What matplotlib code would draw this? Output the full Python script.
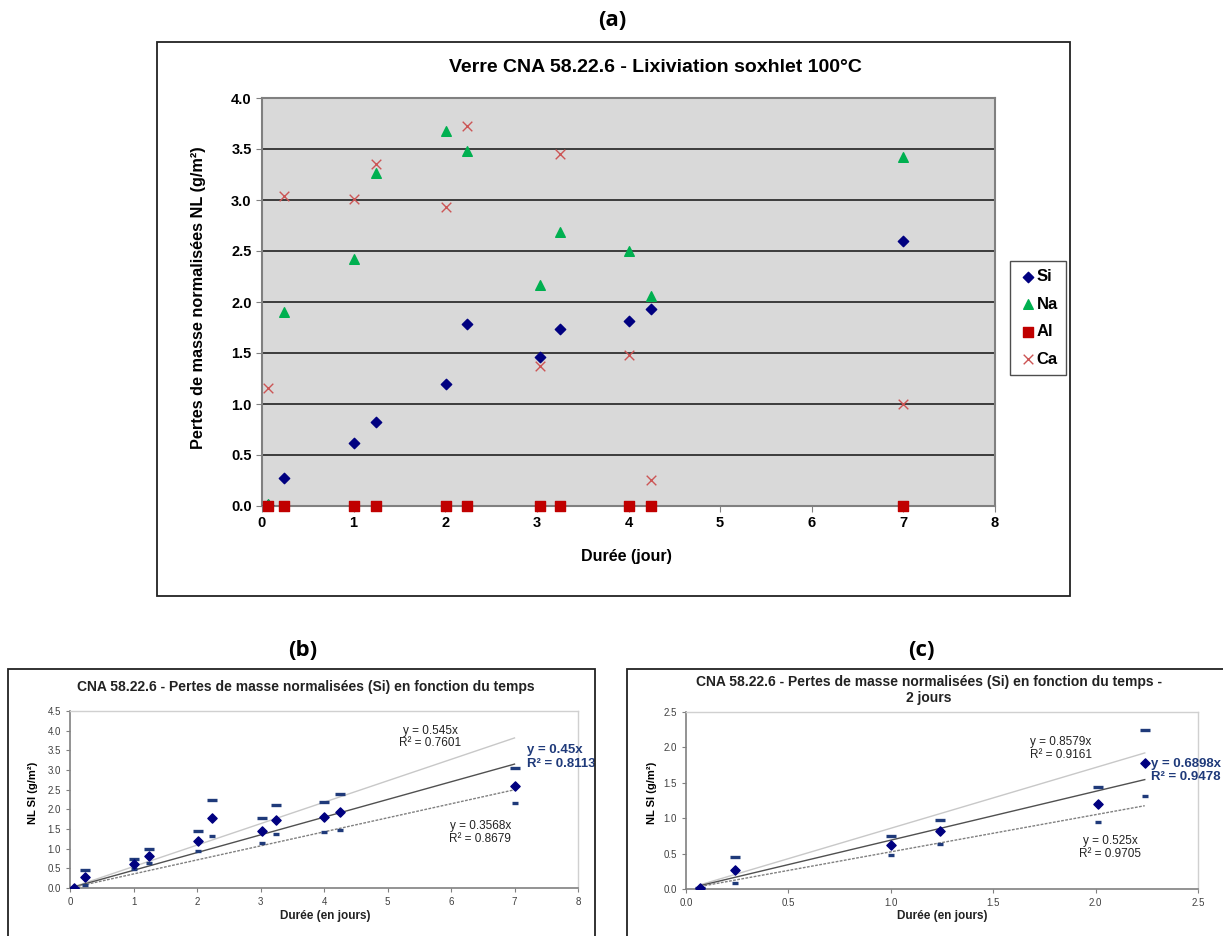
import matplotlib
matplotlib.use("Agg")
import matplotlib.pyplot as plt
from matplotlib.patches import Rectangle
import numpy as np

plt.rcParams['font.family'] = ['Liberation Sans', 'DejaVu Sans']

# durees (jours)
jours = [0.07, 0.24, 1.0, 1.24, 2.01, 2.24, 3.03, 3.25, 4.0, 4.25, 7.0]

# pertes de masse normalisees NL (g/m2)
nl_si = [0.01, 0.27, 0.62, 0.82, 1.20, 1.78, 1.46, 1.74, 1.81, 1.93, 2.60]
nl_na = [0.02, 1.90, 2.42, 3.26, 3.68, 3.48, 2.17, 2.69, 2.50, 2.06, 3.42]
nl_al = [0.0, 0.0, 0.0, 0.0, 0.0, 0.0, 0.0, 0.0, 0.0, 0.0, 0.0]
nl_ca = [1.16, 3.04, 3.01, 3.35, 2.93, 3.73, 1.37, 3.45, 1.48, 0.25, 1.00]

# barres d'erreur Si (bornes haute / basse)
si_haut = [0.01, 0.45, 0.75, 0.98, 1.44, 2.25, 1.77, 2.10, 2.19, 2.39, 3.06]
si_bas = [0.01, 0.08, 0.48, 0.63, 0.94, 1.32, 1.15, 1.37, 1.43, 1.48, 2.15]

# pentes des regressions (haute, moyenne, basse)
pentes_b = [0.545, 0.45, 0.3568]
r2_b = [0.7601, 0.8113, 0.8679]
pentes_c = [0.8579, 0.6898, 0.525]
r2_c = [0.9161, 0.9478, 0.9705]
n_c = 6  # points jusqu'a 2 jours

W, H = 1223, 936
fig = plt.figure(figsize=(W / 100, H / 100), dpi=100)


def fx(px):
    return px / W


def fy(py):
    return 1 - py / H


def cadre(x0, y0, x1, y1):
    fig.patches.append(Rectangle((fx(x0), fy(y1)), fx(x1 - x0), (y1 - y0) / H,
                                 transform=fig.transFigure, fill=False,
                                 edgecolor='#222222', lw=1.3))


# ---------------- (a) ----------------
cadre(157, 42, 1070, 596)
fig.text(fx(612), fy(20), '(a)', ha='center', va='center', fontsize=16,
         fontweight='bold', family=['Open Sans', 'DejaVu Sans'])

ax = fig.add_axes([fx(262), fy(506), fx(995 - 262), (506 - 98) / H])
ax.set_facecolor('#D9D9D9')
ax.scatter(jours, nl_si, marker='D', s=28, color='#000080', label='Si', zorder=3)
ax.scatter(jours, nl_na, marker='^', s=48, color='#00B050', label='Na', zorder=3)
ax.scatter(jours, nl_al, marker='s', s=52, color='#C00000', label='Al', zorder=4, clip_on=False)
ax.scatter(jours, nl_ca, marker='x', s=48, color='#CC5555', linewidths=1.0, label='Ca', zorder=5)
ax.set_xlim(0, 8)
ax.set_ylim(0, 4)
ax.set_xticks(range(0, 9))
ax.set_yticks(np.arange(0, 4.01, 0.5))
ax.set_yticklabels([f'{v:.1f}' for v in np.arange(0, 4.01, 0.5)])
ax.yaxis.grid(True, color='#222222', lw=1.2)
ax.set_axisbelow(True)
for s in ax.spines.values():
    s.set_color('#808080')
    s.set_linewidth(1.5)
ax.tick_params(direction='out', length=4, color='#808080', labelsize=10.5)
for t in ax.get_xticklabels() + ax.get_yticklabels():
    t.set_fontweight('bold')
fig.text(fx(655), fy(67), 'Verre CNA 58.22.6 - Lixiviation soxhlet 100°C',
         ha='center', va='center', fontsize=14, fontweight='bold')
fig.text(fx(198), fy(298), 'Pertes de masse normalisées NL (g/m²)', rotation=90,
         ha='center', va='center', fontsize=11.7, fontweight='bold')
fig.text(fx(626), fy(557), 'Durée (jour)', ha='center', va='center',
         fontsize=11.5, fontweight='bold')
leg = fig.legend(loc='upper left', bbox_to_anchor=(fx(1010), fy(261)),
                 frameon=True, fancybox=False, edgecolor='#222222',
                 prop={'weight': 'bold', 'size': 12}, handletextpad=0.0,
                 handlelength=1.1, labelspacing=0.75, borderpad=0.5,
                 borderaxespad=0)
leg.get_frame().set_linewidth(1.0)


# ---------------- (b) et (c) ----------------
def panneau(rect, n, pentes, r2, xmax, xstep, yticks, pos_txt):
    a = fig.add_axes(rect)
    x = np.array(jours[:n])
    a.scatter(x, nl_si[:n], marker='D', s=22, color='#000080', zorder=4)
    a.plot(x, si_haut[:n], ls='none', marker='_', ms=7, mew=2.4,
           color='#1F3A7A', zorder=3)
    a.plot(x, si_bas[:n], ls='none', marker='_', ms=5, mew=2.4,
           color='#1F3A7A', zorder=3)
    xl = np.array([x[0], x[-1]])
    styles = [dict(color='#C8C8C8', lw=1.0),
              dict(color='#505050', lw=1.0),
              dict(color='#808080', lw=1.0, ls=(0, (2, 1)))]
    for p, st in zip(pentes, styles):
        a.plot(xl, p * xl, **st, zorder=2)
    for i, (p, r) in enumerate(zip(pentes, r2)):
        tx, ty = pos_txt[i]
        if i == 1:
            a.text(tx, ty, f'y = {p:g}x\nR² = {r:.4f}', ha='left', va='center',
                   fontsize=9.5, fontweight='bold', color='#1F3A7A',
                   clip_on=False, linespacing=1.15)
        else:
            a.text(tx, ty, f'y = {p:g}x\nR² = {r:.4f}', ha='center', va='center',
                   fontsize=8.5, color='#222222', linespacing=1.1)
    a.set_xlim(0, xmax)
    a.set_ylim(0, yticks[-1])
    a.set_xticks(np.arange(0, xmax + 0.01, xstep))
    a.set_yticks(yticks)
    a.set_yticklabels([f'{v:.1f}' for v in yticks])
    if xstep < 1:
        a.set_xticklabels([f'{v:.1f}' for v in np.arange(0, xmax + 0.01, xstep)])
    for k, s in a.spines.items():
        if k in ('left', 'bottom'):
            s.set_color('#808080')
            s.set_linewidth(1.2)
        else:
            s.set_color('#D0D0D0')
            s.set_linewidth(1.0)
    a.tick_params(direction='out', length=3, color='#808080', labelsize=7,
                  labelcolor='#404040')
    return a


cadre(8, 669, 595, 950)
fig.text(fx(303), fy(650), '(b)', ha='center', va='center', fontsize=16,
         fontweight='bold', family=['Open Sans', 'DejaVu Sans'])
panneau([fx(70), fy(888), fx(578 - 70), (888 - 711) / H], len(jours), pentes_b,
        r2_b, 8, 1, np.arange(0, 4.51, 0.5),
        [(5.67, 3.84), (7.2, 3.33), (6.46, 1.42)])
fig.text(fx(306), fy(687), 'CNA 58.22.6 - Pertes de masse normalisées (Si) en fonction du temps',
         ha='center', va='center', fontsize=10, fontweight='bold', color='#222222')
fig.text(fx(33), fy(793), 'NL SI (g/m²)', rotation=90, ha='center', va='center',
         fontsize=8, fontweight='bold')
fig.text(fx(325), fy(916), 'Durée (en jours)', ha='center', va='center',
         fontsize=8.5, fontweight='bold', color='#222222')

cadre(627, 669, 1240, 950)
fig.text(fx(921), fy(650), '(c)', ha='center', va='center', fontsize=16,
         fontweight='bold', family=['Open Sans', 'DejaVu Sans'])
panneau([fx(686), fy(889), fx(1198 - 686), (889 - 712) / H], n_c, pentes_c,
        r2_c, 2.5, 0.5, np.arange(0, 2.51, 0.5),
        [(1.83, 1.99), (2.27, 1.67), (2.07, 0.59)])
fig.text(fx(929), fy(690), 'CNA 58.22.6 - Pertes de masse normalisées (Si) en fonction du temps -\n2 jours',
         ha='center', va='center', fontsize=10, fontweight='bold', color='#222222',
         linespacing=1.1)
fig.text(fx(652), fy(793), 'NL SI (g/m²)', rotation=90, ha='center', va='center',
         fontsize=8, fontweight='bold')
fig.text(fx(942), fy(916), 'Durée (en jours)', ha='center', va='center',
         fontsize=8.5, fontweight='bold', color='#222222')

fig.savefig('out.png', dpi=100)
